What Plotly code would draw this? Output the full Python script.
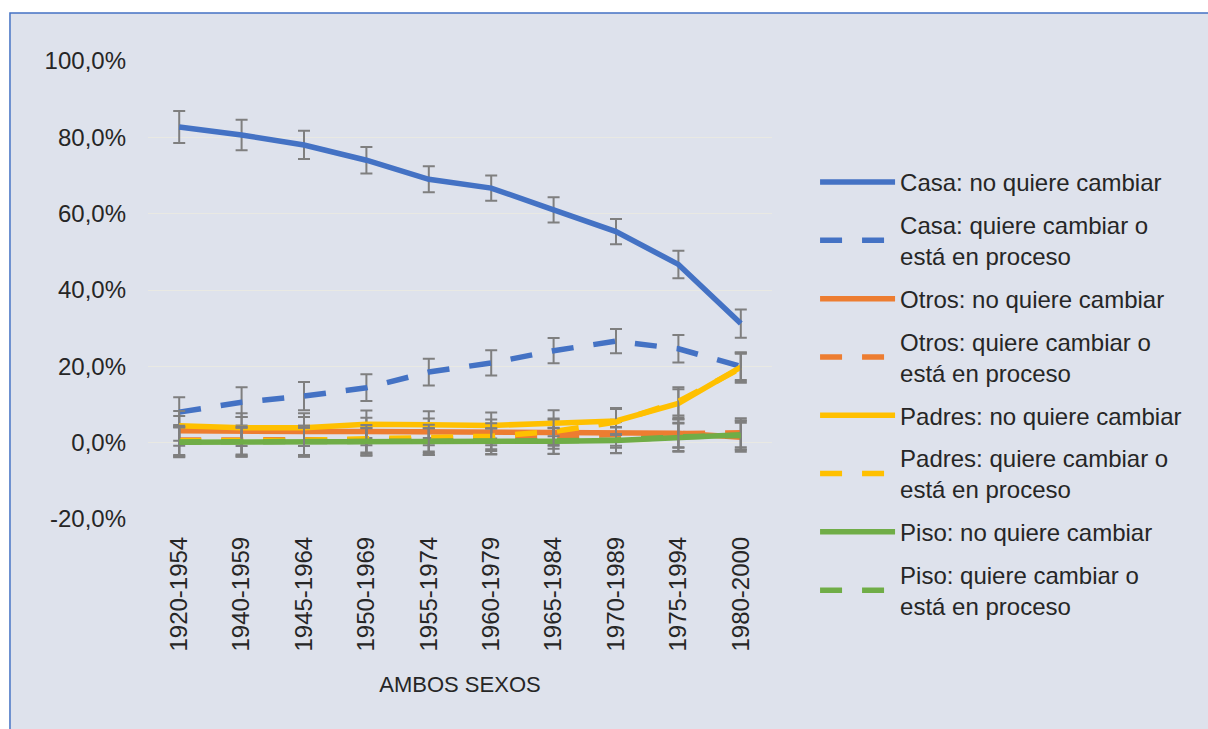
import plotly.graph_objects as go

categories = ['1920-1954', '1940-1959', '1945-1964', '1950-1969', '1955-1974',
              '1960-1979', '1965-1984', '1970-1989', '1975-1994', '1980-2000']

casa_no = [82.7, 80.6, 78.0, 74.0, 69.0, 66.7, 61.0, 55.3, 46.7, 31.2]
casa_si = [8.0, 10.6, 12.2, 14.4, 18.5, 20.9, 24.1, 26.6, 24.6, 20.0]
otros_no = [3.1, 2.9, 2.9, 2.9, 2.8, 2.7, 2.6, 2.6, 2.5, 1.4]
otros_si = [0.7, 0.7, 0.6, 0.7, 0.8, 1.2, 1.8, 2.1, 2.4, 2.6]
padres_no = [4.4, 3.9, 3.9, 4.8, 4.7, 4.5, 5.1, 5.7, 10.3, 19.8]
padres_si = [0.5, 0.5, 0.6, 1.0, 1.2, 1.7, 2.9, 5.4, 10.8, 19.5]
piso_no = [0.1, 0.1, 0.1, 0.2, 0.3, 0.3, 0.4, 0.6, 1.3, 2.1]
piso_si = [0.2, 0.2, 0.2, 0.3, 0.3, 0.4, 0.5, 0.7, 1.5, 1.9]

err_casa_no = [4.2, 4.0, 3.7, 3.5, 3.4, 3.3, 3.3, 3.3, 3.6, 3.7]
err_casa_si = [3.9, 3.9, 3.7, 3.5, 3.5, 3.3, 3.3, 3.2, 3.6, 3.6]
err_small = [3.9, 3.8, 3.8, 3.6, 3.5, 3.4, 3.4, 3.4, 3.7, 3.8]

series_names = [
    'Casa: no quiere cambiar',
    'Casa: quiere cambiar o<br>está en proceso',
    'Otros: no quiere cambiar',
    'Otros: quiere cambiar o<br>está en proceso',
    'Padres: no quiere cambiar',
    'Padres: quiere cambiar o<br>está en proceso',
    'Piso: no quiere cambiar',
    'Piso: quiere cambiar o<br>está en proceso',
]
series_values = [casa_no, casa_si, otros_no, otros_si, padres_no, padres_si, piso_no, piso_si]
series_errors = [err_casa_no, err_casa_si, err_small, err_small, err_small, err_small, err_small, err_small]
series_colors = ['#4472C4', '#4472C4', '#ED7D31', '#ED7D31', '#FFC000', '#FFC000', '#70AD47', '#70AD47']
series_dash = ['solid', '22px,20px', 'solid', '22px,20px', 'solid', '22px,20px', 'solid', '22px,20px']

y_tickvals = [-20, 0, 20, 40, 60, 80, 100]
y_ticktext = ['-20,0%', '0,0%', '20,0%', '40,0%', '60,0%', '80,0%', '100,0%']

FONT = 'Liberation Sans'
TXT = '#262626'

fig = go.Figure()
for i, (name, vals, errs, col, dash) in enumerate(zip(series_names, series_values, series_errors, series_colors, series_dash)):
    fig.add_trace(go.Scatter(
        x=categories, y=vals, name=name, mode='lines',
        line=dict(color=col, width=5.5, dash=dash),
        error_y=dict(type='data', array=errs, visible=True, color='#7F7F7F', thickness=2, width=6),
        legendgroup='g%d' % i,
    ))

fig.add_shape(type='rect', xref='paper', yref='paper',
              x0=-0.2212, x1=1.75, y0=-0.47, y1=1.1048,
              fillcolor='#DEE2EC', line=dict(color='#4472C4', width=1.5), layer='below')

fig.update_layout(
    width=1208, height=729,
    margin=dict(l=148, r=436, t=61, b=210, autoexpand=False),
    paper_bgcolor='white', plot_bgcolor='rgba(0,0,0,0)',
    font=dict(family=FONT, size=24, color=TXT),
    showlegend=True,
    legend=dict(x=1.069, y=0.784, xanchor='left', yanchor='top',
                font=dict(family=FONT, size=24, color=TXT),
                bgcolor='rgba(0,0,0,0)', tracegroupgap=8.5, itemwidth=75,
                traceorder='grouped', maxheight=700),
    xaxis=dict(type='category', range=[-0.5, 9.5], tickangle=-90,
               showgrid=False, zeroline=False, showline=False, ticks='',
               ticklabelstandoff=12,
               tickfont=dict(family=FONT, size=24, color=TXT),
               title=dict(text='AMBOS SEXOS', font=dict(family=FONT, size=22, color=TXT), standoff=26)),
    yaxis=dict(range=[-20, 100], tickvals=y_tickvals, ticktext=y_ticktext,
               showgrid=True, gridcolor='#E9E9E3', gridwidth=1,
               zeroline=True, zerolinecolor='#E9E9E3', zerolinewidth=1,
               showline=False, ticks='', ticklabelstandoff=21,
               tickfont=dict(family=FONT, size=24, color=TXT)),
)

fig.write_html('out.html', config={'displayModeBar': False},
               post_script="document.body.style.margin='0px';document.documentElement.style.overflow='hidden';")
